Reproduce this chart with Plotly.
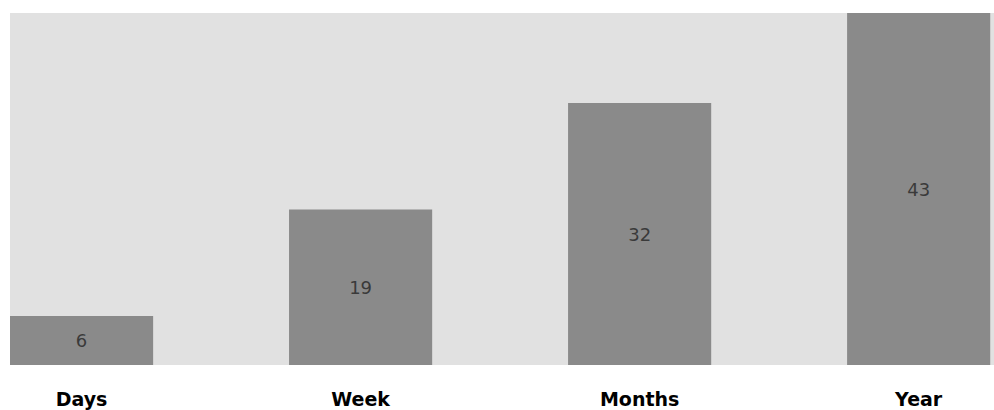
import plotly.graph_objects as go

categories = ["Days", "Week", "Months", "Year"]
values = [6, 19, 32, 43]
value_labels = ["6", "19", "32", "43"]

fig = go.Figure()
fig.add_trace(go.Bar(
    x=categories,
    y=values,
    text=value_labels,
    textposition="inside",
    insidetextanchor="middle",
    textangle=0,
    textfont=dict(family="DejaVu Sans", size=18, color="#3a3a3a"),
    marker=dict(color="#8a8a8a", line=dict(width=0)),
    width=0.513,
    hoverinfo="skip",
))

fig.update_layout(
    width=994,
    height=410,
    margin=dict(l=10, r=0, t=13, b=43),
    paper_bgcolor="#ffffff",
    plot_bgcolor="#e1e1e1",
    showlegend=False,
    xaxis=dict(
        range=[-0.2565, 3.27],
        showgrid=False,
        zeroline=False,
        showline=False,
        ticks="",
        ticklabelstandoff=21,
        tickfont=dict(family="DejaVu Sans", size=19, color="#000000", weight="bold"),
    ),
    yaxis=dict(
        range=[0, 43.0],
        showgrid=False,
        zeroline=False,
        showline=False,
        showticklabels=False,
        ticks="",
    ),
)

fig.write_html(
    "out.html",
    config={"displayModeBar": False},
    post_script="document.body.style.margin='0';",
)
